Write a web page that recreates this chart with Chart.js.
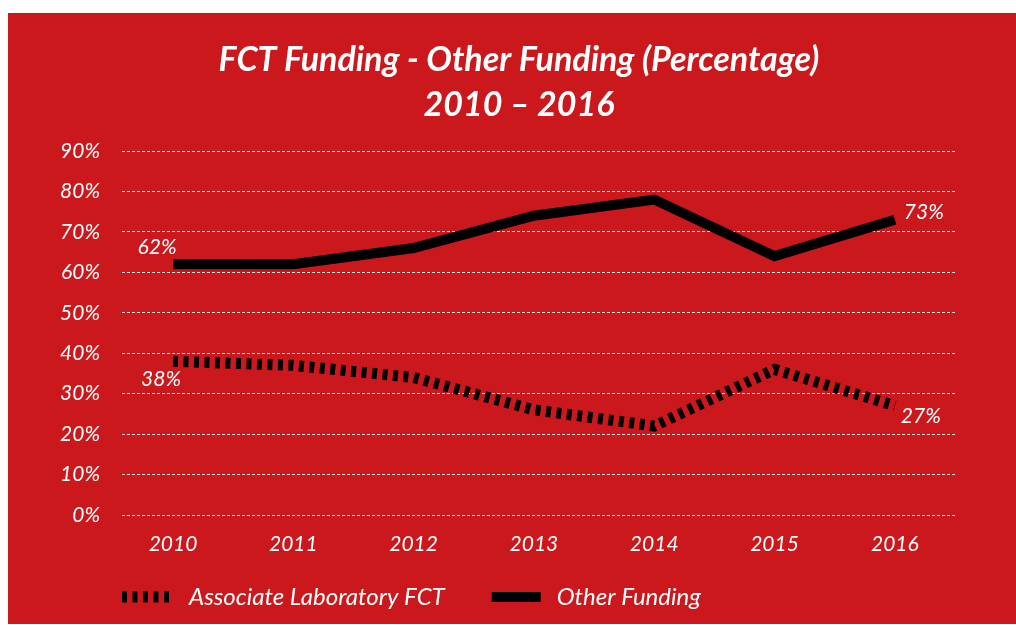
<!DOCTYPE html>
<html>
<head>
<meta charset="utf-8">
<script src="https://cdn.jsdelivr.net/npm/chart.js@4"></script>
<style>
    body { margin: 0; background: #ffffff; }
    #panel {
        position: absolute;
        left: 8px;
        top: 13px;
        width: 1008px;
        height: 611px;
        background: #cb181c;
    }
</style>
</head>
<body>
<div id="panel"><canvas id="fundingChart"></canvas></div>
<script>
// Chart data
const years = [2010, 2011, 2012, 2013, 2014, 2015, 2016];
const associateLabFct = [38, 37, 34, 26, 22, 36, 27];
const otherFunding = [62, 62, 66, 74, 78, 64, 73];
const yTicks = [0, 10, 20, 30, 40, 50, 60, 70, 80, 90];

const textFont = 'Lato, "Open Sans", sans-serif';

// Pairs the year with each value for the linear x scale
function toPoints(values) {
    return values.map((v, i) => ({ x: years[i], y: v }));
}

// Draws the first and last value of each line as "NN%"
const endLabelsPlugin = {
    id: 'endLabels',
    afterDatasetsDraw(chart) {
        const ctx = chart.ctx;
        // offsets per dataset: [first point, last point]
        const offsets = [
            [[-12, 18], [26, 10]],
            [[-16, -17], [29, -8]]
        ];
        ctx.save();
        ctx.fillStyle = '#ffffff';
        ctx.font = 'italic 400 21px ' + textFont;
        ctx.textAlign = 'center';
        ctx.textBaseline = 'middle';
        chart.data.datasets.forEach((ds, di) => {
            const meta = chart.getDatasetMeta(di);
            const last = meta.data.length - 1;
            [0, last].forEach((idx, k) => {
                const pt = meta.data[idx];
                const off = offsets[di][k];
                ctx.fillText(ds.data[idx].y + '%', pt.x + off[0], pt.y + off[1]);
            });
        });
        ctx.restore();
    }
};

// Legend under the chart, left-aligned with the plot area
const bottomLegendPlugin = {
    id: 'bottomLegend',
    afterDraw(chart) {
        const ctx = chart.ctx;
        const area = chart.chartArea;
        const swatchWidths = [51, 49];
        const y = area.bottom + 82;
        let x = area.left;
        ctx.save();
        ctx.font = 'italic 400 24px ' + textFont;
        ctx.textBaseline = 'middle';
        chart.data.datasets.forEach((ds, i) => {
            ctx.strokeStyle = ds.borderColor;
            ctx.lineWidth = ds.borderWidth;
            ctx.setLineDash(ds.borderDash || []);
            ctx.lineCap = 'butt';
            ctx.beginPath();
            ctx.moveTo(x, y);
            ctx.lineTo(x + swatchWidths[i], y);
            ctx.stroke();
            ctx.setLineDash([]);
            x += swatchWidths[i] + 16;
            ctx.fillStyle = '#ffffff';
            ctx.fillText(ds.label, x, y);
            x += ctx.measureText(ds.label).width + 47;
        });
        ctx.restore();
    }
};

const ctx = document.getElementById('fundingChart').getContext('2d');

new Chart(ctx, {
    type: 'line',
    data: {
        datasets: [
            {
                label: 'Associate Laboratory FCT',
                data: toPoints(associateLabFct),
                borderColor: '#000000',
                backgroundColor: '#000000',
                borderWidth: 11,
                borderDash: [5, 5.5],
                pointRadius: 0,
                tension: 0
            },
            {
                label: 'Other Funding',
                data: toPoints(otherFunding),
                borderColor: '#000000',
                backgroundColor: '#000000',
                borderWidth: 10,
                pointRadius: 0,
                tension: 0
            }
        ]
    },
    options: {
        responsive: true,
        maintainAspectRatio: false,
        animation: false,
        layout: {
            padding: { left: 14, right: 0, top: 0, bottom: 52.5 }
        },
        scales: {
            x: {
                type: 'linear',
                min: 2009.576,
                max: 2016.5,
                grid: { display: false, drawTicks: false },
                border: { display: false },
                afterBuildTicks: scale => {
                    scale.ticks = years.map(v => ({ value: v }));
                },
                afterFit: scale => {
                    scale.height = 56.5;
                },
                ticks: {
                    color: '#ffffff',
                    padding: 17,
                    maxRotation: 0,
                    autoSkip: false,
                    font: { family: textFont, size: 21, style: 'italic' },
                    callback: value => String(value)
                }
            },
            y: {
                min: 0,
                max: 90,
                afterBuildTicks: scale => {
                    scale.ticks = yTicks.map(v => ({ value: v }));
                },
                afterFit: scale => {
                    scale.width = 100;
                },
                grid: {
                    color: 'rgba(255, 255, 255, 0.9)',
                    lineWidth: 1,
                    drawTicks: false
                },
                border: { display: false, dash: [3, 2] },
                ticks: {
                    color: '#ffffff',
                    padding: 22,
                    font: { family: textFont, size: 21, style: 'italic' },
                    callback: value => value + '%'
                }
            },
            // empty right-hand margin so the plot ends where the original does
            yRight: {
                type: 'linear',
                position: 'right',
                grid: { display: false, drawTicks: false },
                border: { display: false },
                ticks: { display: false },
                afterFit: scale => {
                    scale.width = 61;
                }
            }
        },
        plugins: {
            title: {
                display: true,
                text: ['FCT Funding - Other Funding (Percentage)', '2010 \u2013 2016'],
                color: '#ffffff',
                font: { family: textFont, size: 34, weight: 'bold', style: 'italic', lineHeight: 45 / 34 },
                padding: { top: 24.5, bottom: 23.5 }
            },
            legend: { display: false },
            tooltip: { enabled: false }
        }
    },
    plugins: [endLabelsPlugin, bottomLegendPlugin]
});
</script>
</body>
</html>
